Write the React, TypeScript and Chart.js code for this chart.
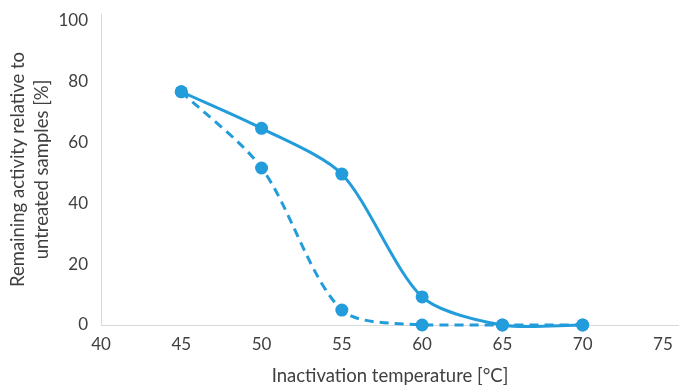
import React, { useEffect, useRef } from "react";
import { Chart, registerables } from "chart.js";

Chart.register(...registerables);

const temps = [45, 50, 55, 60, 65, 70];
const solidValues = [76.5, 64.5, 49.5, 9.2, 0, 0];
const dashedValues = [76.5, 51.5, 4.9, 0, 0, 0];
const xTicks = [40, 45, 50, 55, 60, 65, 70, 75];
const yTicks = [0, 20, 40, 60, 80, 100];
const xTitle = "Inactivation temperature [°C]";
const yTitle = ["Remaining activity relative to", "untreated samples [%]"];

const BLUE = "#229cda";
const TEXT = "#404040";
const FONT = "Lato, 'Open Sans', sans-serif";

export default function App() {
  const ref = useRef<HTMLCanvasElement | null>(null);
  useEffect(() => {
    document.body.style.margin = "0";
    const ctx = ref.current!;
    const mk = (vals: number[]) => temps.map((t, i) => ({ x: t, y: vals[i] }));
    const chart = new Chart(ctx, {
      type: "line",
      data: {
        datasets: [
          {
            data: mk(solidValues),
            borderColor: BLUE,
            backgroundColor: BLUE,
            borderWidth: 3,
            pointRadius: 6.5,
            pointBorderWidth: 0,
            tension: 0.27,
            capBezierPoints: false,
            clip: false,
          },
          {
            data: mk(dashedValues),
            borderColor: BLUE,
            backgroundColor: BLUE,
            borderWidth: 3,
            borderDash: [9, 6],
            pointRadius: 6.5,
            pointBorderWidth: 0,
            tension: 0.3,
            clip: false,
          },
        ],
      },
      options: {
        animation: false,
        responsive: false,
        maintainAspectRatio: false,
        layout: { autoPadding: false, padding: { top: 14, right: 0, left: 6, bottom: 0 } },
        plugins: { legend: { display: false }, tooltip: { enabled: false } },
        scales: {
          x: {
            type: "linear",
            min: 40,
            max: 76,
            afterBuildTicks: (s: any) => {
              s.ticks = xTicks.map((v) => ({ value: v }));
            },
            afterFit: (s: any) => {
              s.height = 60;
              s.paddingLeft = 0;
              s.paddingRight = 0;
            },
            grid: { display: false, drawTicks: false },
            border: { color: "#d9d9d9", width: 1 },
            ticks: {
              color: TEXT,
              font: { family: FONT, size: 17 },
              padding: 9,
              maxRotation: 0,
            },
            title: {
              display: true,
              text: xTitle,
              color: TEXT,
              font: { family: FONT, size: 18.5, lineHeight: 1 },
              padding: { top: 0, bottom: 0 },
            },
          },
          y: {
            type: "linear",
            min: 0,
            max: 102,
            afterBuildTicks: (s: any) => {
              s.ticks = yTicks.map((v) => ({ value: v }));
            },
            afterFit: (s: any) => {
              s.width = 95;
              s.paddingTop = 0;
              s.paddingBottom = 0;
            },
            grid: { display: false, drawTicks: false },
            border: { color: "#d9d9d9", width: 1 },
            ticks: {
              color: TEXT,
              font: { family: FONT, size: 17 },
              padding: 13,
            },
            title: {
              display: true,
              text: yTitle,
              color: TEXT,
              font: { family: FONT, size: 18.5, lineHeight: 1.3 },
              padding: { top: 0, bottom: 0 },
            },
          },
        },
      },
    });
    return () => chart.destroy();
  }, []);
  return (
    <div style={{ width: 679, height: 385, background: "#fff" }}>
      <canvas ref={ref} width={679} height={385} />
    </div>
  );
}
